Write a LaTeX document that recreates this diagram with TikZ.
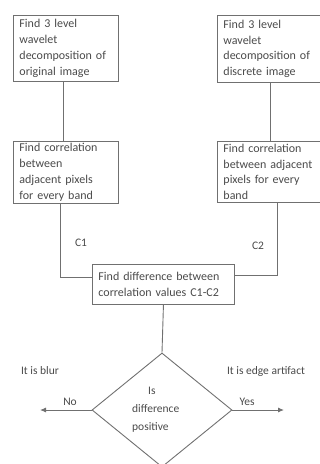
\documentclass[tikz,border=0pt]{standalone}
\usepackage{fontspec}
\setmainfont{Carlito}
\usetikzlibrary{shapes.geometric,arrows.meta}
\definecolor{ln}{HTML}{707070}
\definecolor{tx}{HTML}{4A4A4A}
\tikzset{
  stepbox/.style={draw=ln, line width=0.9pt, anchor=north west, minimum width=#1, text width=#1-12pt,
    inner xsep=6pt, inner ysep=2pt, align=left, font=\fontsize{12}{15.8}\selectfont, text=tx},
  conn/.style={draw=ln, line width=0.9pt},
  lbl/.style={font=\fontsize{11.5}{15}\selectfont, text=tx, inner sep=0pt},
}
\begin{document}
\begin{tikzpicture}[x=1pt,y=-1pt]
\useasboundingbox (0,0) rectangle (320,464);
\begin{scope}
\clip (0,0) rectangle (320,464);
\node[stepbox=105pt, minimum height=66pt] (b1) at (13,15) {Find 3 level\\wavelet\\decomposition of\\original image};
\node[stepbox=105pt, minimum height=67pt] (b2) at (217,15) {Find 3 level\\wavelet\\decomposition of\\discrete image};
\node[stepbox=105pt, minimum height=62pt] (b3) at (13,141) {Find correlation\\between\\adjacent pixels\\for every band};
\node[stepbox=105pt, minimum height=61pt] (b4r) at (217,141) {Find correlation\\between adjacent\\pixels for every\\band};
\node[stepbox=142pt, minimum height=40pt] (b5) at (92,264) {Find difference between\\correlation values C1-C2};
\node[diamond, draw=ln, line width=0.9pt, minimum width=140pt, minimum height=114pt, inner sep=0pt] (d) at (162,410) {};
\node[lbl, anchor=west, align=left, font=\fontsize{11.5}{18}\selectfont] (dt) at (132,410) {\hspace*{16pt}Is\\difference\\positive};
\draw[conn] ([xshift=-3pt]b1.south) -- ([xshift=-3pt]b3.north);
\draw[conn] (b2.south) -- (b4r.north);
\draw[conn] ([xshift=-6pt]b3.south) |- ([yshift=7pt]b5.west);
\draw[conn] ([xshift=7pt]b4r.south) |- ([yshift=9pt]b5.east);
\draw[conn] (b5.south) -- (d.north);
\coordinate (nl) at (40,410);
\coordinate (yr) at (284,410);
\draw[conn, -{Latex[length=6pt,width=5pt]}] (d.west) -- (nl);
\draw[conn, -{Latex[length=6pt,width=5pt]}] (d.east) -- (yr);
\node[lbl] (c1) at (81,243) {C1};
\node[lbl] (c2) at (258,246) {C2};
\node[lbl] (no) at (70,402) {No};
\node[lbl] (yes) at (247,402) {Yes};
\node[lbl] (blur) at (40,371) {It is blur};
\node[lbl] (edge) at (266,371) {It is edge artifact};
\end{scope}
\end{tikzpicture}
\end{document}
